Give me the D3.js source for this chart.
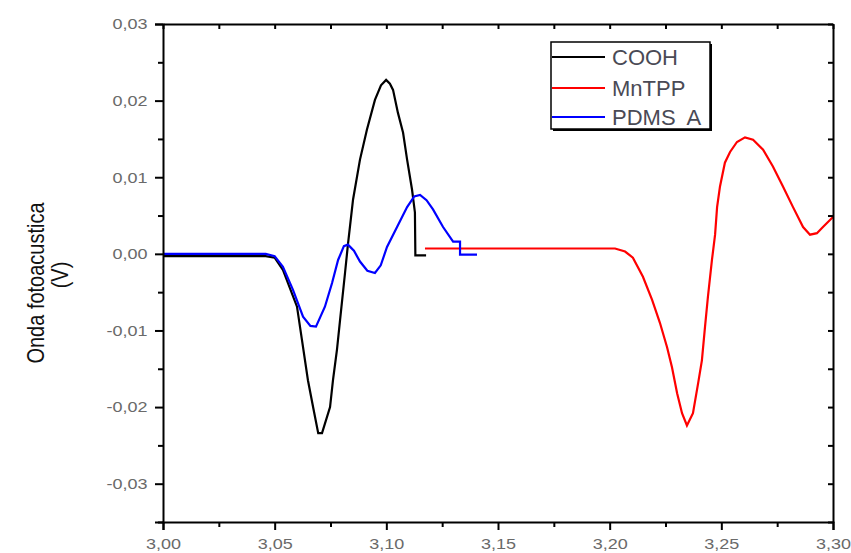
<!DOCTYPE html>
<html>
<head>
<meta charset="utf-8">
<script src="https://cdn.jsdelivr.net/npm/d3@7"></script>
<style>
  body { margin: 0; background: #fff; }
  text { font-family: "Liberation Sans", Arial, sans-serif; }
</style>
</head>
<body>
<script>
// Tick values for the axes
const xMajor = [3.00, 3.05, 3.10, 3.15, 3.20, 3.25, 3.30];
const xMinor = [3.025, 3.075, 3.125, 3.175, 3.225, 3.275];
const yMajor = [-0.03, -0.02, -0.01, 0.00, 0.01, 0.02, 0.03];
const yMinor = [-0.035, -0.025, -0.015, -0.005, 0.005, 0.015, 0.025];

// COOH (black)
const coohX = [3.000, 3.020, 3.046, 3.050, 3.0537, 3.0600, 3.0622, 3.0649, 3.0672, 3.0695, 3.0712, 3.0748,
  3.0761, 3.0779, 3.0793, 3.0815, 3.0828, 3.0851, 3.0882, 3.0913, 3.0949, 3.0976, 3.0999, 3.1016, 3.1030,
  3.1052, 3.1075, 3.1093, 3.1115, 3.1128, 3.1130, 3.1178];
const coohY = [-0.0003, -0.0003, -0.0003, -0.0005, -0.0021, -0.0069, -0.0112, -0.0165, -0.0200, -0.0234, -0.0234, -0.0200,
  -0.0165, -0.0125, -0.0086, -0.0025, 0.0012, 0.0071, 0.0123, 0.0162, 0.0201, 0.0220, 0.0227, 0.0222, 0.0214,
  0.0184, 0.0158, 0.0123, 0.0084, 0.0054, -0.0002, -0.0002];

// MnTPP (red)
const mntppX = [3.1173, 3.1600, 3.2024, 3.2069, 3.2104, 3.2149, 3.2190, 3.2225, 3.2257, 3.2279, 3.2302, 3.2324,
  3.2346, 3.2373, 3.2396, 3.2413, 3.2427, 3.2440, 3.2458, 3.2472, 3.2481, 3.2494, 3.2516, 3.2539, 3.2570,
  3.2606, 3.2642, 3.2687, 3.2731, 3.2776, 3.2821, 3.2866, 3.2897, 3.2928, 3.2955, 3.3000];
const mntppY = [0.0007, 0.0007, 0.0007, 0.0003, -0.0005, -0.0030, -0.0060, -0.0090, -0.0122, -0.0148, -0.0182, -0.0208,
  -0.0224, -0.0208, -0.0169, -0.0139, -0.0095, -0.0056, -0.0008, 0.0025, 0.0061, 0.0088, 0.0119, 0.0133, 0.0146,
  0.0152, 0.0149, 0.0136, 0.0114, 0.0088, 0.0061, 0.0035, 0.0025, 0.0027, 0.0035, 0.0048];

// PDMS A (blue)
const pdmsX = [3.000, 3.020, 3.046, 3.050, 3.0537, 3.0582, 3.0627, 3.0660, 3.0685, 3.0725, 3.0757, 3.0784,
  3.0810, 3.0828, 3.0855, 3.0882, 3.0915, 3.0949, 3.0975, 3.1003, 3.1048, 3.1093, 3.1125, 3.1151, 3.1180,
  3.1209, 3.1254, 3.1299, 3.1330, 3.1330, 3.1406];
const pdmsY = [0.0000, 0.0000, 0.0000, -0.0003, -0.0017, -0.0047, -0.0082, -0.0094, -0.0095, -0.0069, -0.0038, -0.0008,
  0.0010, 0.0012, 0.0004, -0.0010, -0.0022, -0.0025, -0.0015, 0.0009, 0.0035, 0.0061, 0.0075, 0.0077, 0.0070,
  0.0058, 0.0035, 0.0016, 0.0016, -0.0001, -0.0001];

const seriesNames = ["COOH", "MnTPP", "PDMS  A"];
const seriesColors = ["#000000", "#ff0000", "#0000ff"];

const series = [
  { name: seriesNames[0], color: seriesColors[0], pts: d3.zip(coohX, coohY) },
  { name: seriesNames[1], color: seriesColors[1], pts: d3.zip(mntppX, mntppY) },
  { name: seriesNames[2], color: seriesColors[2], pts: d3.zip(pdmsX, pdmsY) }
];

const W = 851, H = 553;
const margin = { top: 24, right: 18, bottom: 31, left: 163 };
const width = W - margin.left - margin.right;
const height = H - margin.top - margin.bottom;

const svg = d3.select("body").append("svg")
  .attr("width", W)
  .attr("height", H);

const g = svg.append("g")
  .attr("transform", `translate(${margin.left},${margin.top})`);

const x = d3.scaleLinear().domain([3.00, 3.30]).range([0, width]);
const y = d3.scaleLinear().domain([-0.035, 0.03]).range([height, 0]);

const comma = v => d3.format(".2f")(v).replace(".", ",").replace("−", "-");

// clip so the curves stay inside the frame
g.append("clipPath").attr("id", "clip")
  .append("rect").attr("width", width).attr("height", height);

const line = d3.line().x(d => x(d[0])).y(d => y(d[1]));

g.append("g").attr("clip-path", "url(#clip)")
  .selectAll("path")
  .data(series)
  .join("path")
  .attr("d", d => line(d.pts))
  .attr("fill", "none")
  .attr("stroke", d => d.color)
  .attr("stroke-width", 2.2)
  .attr("stroke-linejoin", "miter");

// axes
function styleAxis(sel) {
  sel.select(".domain").attr("stroke", "#000").attr("stroke-width", 2);
  sel.selectAll(".tick line").attr("stroke", "#000").attr("stroke-width", 2);
  sel.selectAll(".tick text").attr("fill", "#6a6a6a").style("font-size", "15px");
}

const gx = g.append("g").attr("transform", `translate(0,${height})`)
  .call(d3.axisBottom(x).tickValues(xMajor).tickSize(8).tickPadding(8).tickFormat(comma))
  .call(styleAxis);
gx.selectAll(".tick text").attr("transform", "scale(1.2,1)");

g.append("g").attr("transform", `translate(0,${height})`)
  .call(d3.axisBottom(x).tickValues(xMinor).tickSize(5).tickFormat(""))
  .call(styleAxis).select(".domain").remove();

const gy = g.append("g")
  .call(d3.axisLeft(y).tickValues(yMajor).tickSize(8).tickPadding(5).tickFormat(comma))
  .call(styleAxis);
gy.selectAll(".tick text").attr("transform", "scale(1.2,1)");

g.append("g")
  .call(d3.axisLeft(y).tickValues(yMinor).tickSize(5).tickFormat(""))
  .call(styleAxis).select(".domain").remove();

// mirrored top and right axes, ticks inward
g.append("g")
  .call(d3.axisBottom(x).tickValues(xMajor.concat(xMinor)).tickSize(5).tickFormat("").tickSizeOuter(0))
  .call(styleAxis);

g.append("g").attr("transform", `translate(${width},0)`)
  .call(d3.axisLeft(y).tickValues(yMajor.concat(yMinor)).tickSize(5).tickFormat("").tickSizeOuter(0))
  .call(styleAxis);

// y axis title, two lines
const yl = svg.append("g").attr("fill", "#111").style("font-size", "20px");
yl.append("text")
  .attr("transform", "translate(44,283) rotate(-90) scale(1,1.2)")
  .attr("text-anchor", "middle")
  .text("Onda fotoacustica");
yl.append("text")
  .attr("transform", "translate(68,275) rotate(-90) scale(1,1.2)")
  .attr("text-anchor", "middle")
  .text("(V)");

// legend
const lg = svg.append("g").attr("transform", "translate(551,42)");
lg.append("rect").attr("x", 2).attr("y", 2).attr("width", 159).attr("height", 87)
  .attr("fill", "#000");
lg.append("rect").attr("width", 159).attr("height", 87)
  .attr("fill", "#fff").attr("stroke", "#000").attr("stroke-width", 1.5);

const rowY = [15, 46, 75];
const items = lg.selectAll("g.item").data(series).join("g")
  .attr("class", "item")
  .attr("transform", (d, i) => `translate(0,${rowY[i]})`);
items.append("line").attr("x1", 1).attr("x2", 54)
  .attr("stroke", d => d.color).attr("stroke-width", 2);
items.append("text").attr("x", 61).attr("dy", "0.36em")
  .attr("fill", "#4a4a55").style("font-size", "22px")
  .attr("xml:space", "preserve").style("white-space", "pre")
  .text(d => d.name);
</script>
</body>
</html>
